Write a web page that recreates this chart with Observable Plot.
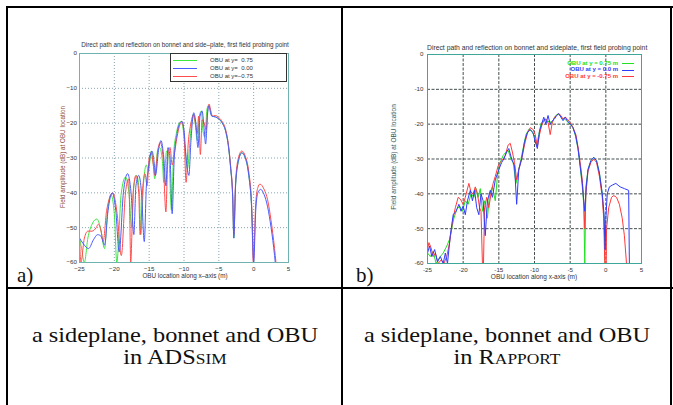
<!DOCTYPE html>
<html>
<head>
<meta charset="utf-8">
<script src="https://cdn.jsdelivr.net/npm/d3@7"></script>
<script src="https://cdn.jsdelivr.net/npm/@observablehq/plot@0.6"></script>
<style>
  html, body { margin: 0; padding: 0; background: #fff; }
  #page { position: relative; width: 673px; height: 405px; overflow: hidden; background: #fff; }
  .abs { position: absolute; }
  .bar { position: absolute; background: #000; }
  .tiny { position: absolute; font-family: "Liberation Sans", Arial, sans-serif; font-size: 6px; color: #333; white-space: nowrap; }
  .cap { position: absolute; font-family: "Liberation Serif", serif; font-size: 21px; line-height: 22px; text-align: center; color: #111; white-space: nowrap; transform: scaleX(1.16); }
  .sc { font-variant: small-caps; }
  .lab { position: absolute; font-family: "Liberation Serif", serif; font-size: 21px; line-height: 22px; color: #111; }
  .leg { position: absolute; height: 0; border-top: 1px solid; }
</style>
</head>
<body>
<div id="page"></div>
<script>
// ---------- data ----------
const xTicks = [-25, -20, -15, -10, -5, 0, 5];
const yTicks = [0, -10, -20, -30, -40, -50, -60];

const titleA = "Direct path and reflection on bonnet and side\u2013plate, first field probing point";
const titleB = "Direct path and reflection on bonnet and sideplate, first field probing point";
const xLabelA = "OBU location along x\u2013axis (m)";
const xLabelB = "OBU location along x-axis (m)";
const yLabel = "Field amplitude (dB) at OBU location";
const legendA = ["OBU at y=  0.75", "OBU at y=  0.00", "OBU at y=\u22120.75"];
const legendB = ["OBU at y = 0.75 m", "OBU at y = 0.0 m", "OBU at y = -0.75 m"];
const captions = [["a sideplane, bonnet and OBU", "in AD<span class='sc'>Ssim</span>"],
                  ["a sideplane, bonnet and OBU", "in <span class='sc'>Rapport</span>"]];
const panelLabels = ["a)", "b)"];

// ADSsim (panel a)
const adsGreen = [[-25,-53],[-24.7,-56],[-24.3,-60],[-23.8,-53],[-23.2,-49],[-22.5,-47.5],[-22.0,-50],[-21.4,-56],
 [-21.0,-46],[-20.5,-40.5],[-20.0,-46],[-19.65,-60],[-19.0,-40],[-18.4,-35.5],[-17.9,-40],[-17.5,-50],[-17.2,-38],
 [-16.8,-35],[-16.4,-40],[-16.2,-52],[-15.8,-37],[-15.4,-32],[-15.1,-34],[-14.9,-31],[-14.7,-28],[-14.4,-32],[-14.2,-36],
 [-13.8,-28],[-13.5,-27],[-13.1,-31],[-12.9,-37],[-12.5,-28],[-12.2,-29],[-11.8,-45],[-11.5,-29],[-11.1,-23],[-10.7,-20],
 [-10.4,-19.5],[-10.1,-22],[-9.8,-28],[-9.5,-33],[-9.1,-24],[-8.7,-17.5],[-8.4,-20],[-8.1,-25],[-7.8,-18],[-7.5,-16.5],
 [-7.3,-22],[-7.0,-24],[-6.7,-16],[-6.5,-15],[-6.2,-16.5],[-6.0,-18],[-5.5,-18.2],[-5.0,-18.8],[-4.5,-20],[-4.0,-22.5],
 [-3.6,-27],[-3.3,-33],[-3.0,-42],[-2.85,-53],[-2.6,-38],[-2.2,-31],[-1.7,-28.5],[-1.2,-30],[-0.7,-35],[-0.3,-44],[0.0,-60]];
const adsBlue = [[-25,-53],[-24.5,-54.5],[-23.7,-56],[-23.0,-53.5],[-22.4,-52],[-21.9,-52.5],[-21.4,-55],[-20.9,-45],
 [-20.3,-40],[-19.8,-45],[-19.3,-57],[-18.7,-40],[-18.1,-34.5],[-17.6,-40],[-17.2,-52],[-16.9,-38],[-16.5,-35],[-16.1,-40],
 [-15.7,-54],[-15.4,-38],[-15.1,-33],[-14.9,-30],[-14.6,-28],[-14.3,-31],[-14.1,-35],[-13.6,-27],[-13.3,-25],[-12.9,-30],
 [-12.6,-38],[-12.3,-27],[-12.0,-30],[-11.7,-46],[-11.4,-30],[-11.0,-23],[-10.6,-20],[-10.3,-19.5],[-10.0,-22],[-9.7,-30],
 [-9.3,-35],[-9.0,-25],[-8.6,-17],[-8.3,-20],[-8.0,-27],[-7.7,-18],[-7.4,-16.5],[-7.1,-22],[-6.9,-26],[-6.6,-17],
 [-6.4,-15],[-6.2,-17],[-6.0,-18],[-5.5,-18.2],[-5.0,-18.8],[-4.5,-20],[-4.0,-22.5],[-3.6,-27],[-3.3,-33],[-3.0,-42],
 [-2.85,-53],[-2.6,-38],[-2.2,-31],[-1.7,-28.5],[-1.2,-30],[-0.7,-35],[-0.3,-44],[0.0,-60],[0.3,-45],[0.6,-40],
 [1.0,-39],[1.5,-40.5],[2.0,-44],[2.5,-50],[3.0,-58],[3.1,-60]];
const adsRed = [[-25,-53],[-24.8,-60],[-24.3,-53],[-23.8,-51],[-23.2,-51],[-22.6,-50],[-22.3,-49],[-21.9,-51],[-21.6,-54],
 [-21.1,-45],[-20.2,-40],[-19.6,-46],[-19.0,-58],[-18.4,-40],[-17.95,-36],[-17.8,-45],[-17.65,-60],[-17.3,-40],[-16.9,-35],
 [-16.5,-40],[-16.3,-52],[-15.9,-38],[-15.6,-34.5],[-15.3,-38],[-15.0,-30],[-14.7,-28.5],[-14.4,-32],[-14.2,-35],[-13.7,-27],
 [-13.4,-25.5],[-13.0,-30],[-12.6,-45.5],[-12.3,-29],[-12.0,-27],[-11.7,-32],[-11.4,-29],[-11.0,-24],[-10.6,-20.5],
 [-10.3,-19.5],[-10.0,-23],[-9.7,-37],[-9.4,-26],[-9.0,-20],[-8.6,-17.5],[-8.3,-21],[-8.1,-23],[-7.9,-18],[-7.65,-29],
 [-7.4,-19],[-7.1,-20],[-6.8,-22],[-6.6,-16],[-6.4,-14.5],[-6.2,-16],[-5.9,-18],[-5.5,-17.8],[-5.0,-18.4],[-4.5,-19.6],
 [-4.0,-22],[-3.6,-26.5],[-3.3,-32.5],[-3.0,-41],[-2.85,-52],[-2.6,-37],[-2.2,-30],[-1.7,-28],[-1.2,-29.5],[-0.7,-34],
 [-0.3,-43],[-0.05,-60],[0.3,-43],[0.6,-38.5],[0.9,-37.5],[1.5,-39],[2.0,-42],[2.5,-48],[3.0,-56],[3.2,-60]];

// Rapport (panel b)
const rapGreen = [[-25,-57],[-24.6,-58],[-24.2,-56.5],[-23.8,-60],[-23.2,-58],[-22.8,-57],[-22.3,-55],[-21.9,-53],
 [-21.6,-50],[-21.3,-47],[-20.9,-44.5],[-20.5,-43.5],[-20.1,-45],[-19.7,-42],[-19.3,-43],[-18.9,-40],[-18.5,-41],
 [-18.2,-38.5],[-17.9,-41],[-17.6,-38.5],[-17.3,-45],[-17.0,-42],[-16.6,-47],[-16.3,-40],[-15.9,-38],[-15.5,-42],
 [-15.2,-35],[-14.8,-31],[-14.4,-29],[-14.0,-28],[-13.7,-27.5],[-13.3,-30],[-13.0,-31],[-12.6,-37],[-12.3,-34],[-12.0,-31],
 [-11.6,-27],[-11.2,-23],[-10.8,-21.5],[-10.4,-22],[-10.0,-23.5],[-9.7,-26],[-9.4,-23],[-9.1,-20],[-8.8,-19],[-8.5,-18.5],
 [-8.2,-19.5],[-7.9,-19],[-7.6,-20],[-7.3,-18.5],[-7.0,-17.5],[-6.7,-17],[-6.4,-17.5],[-6.1,-18.5],[-5.8,-18.5],[-5.5,-19],
 [-5.1,-20],[-4.7,-20.5],[-4.3,-23],[-3.9,-27],[-3.6,-32],[-3.3,-38],[-3.1,-43],[-2.95,-60],[-2.8,-38],[-2.5,-33],
 [-2.1,-30.5],[-1.7,-29.5],[-1.3,-30.5],[-0.9,-34],[-0.5,-40],[-0.25,-47],[-0.1,-60]];
const rapBlue = [[-25,-57],[-24.7,-55],[-24.4,-58],[-24.0,-56],[-23.6,-59.5],[-23.2,-58],[-22.8,-60],[-22.5,-57],
 [-22.2,-60],[-21.8,-52],[-21.4,-46],[-21.0,-45],[-20.6,-43],[-20.3,-45],[-20.0,-43.5],[-19.7,-46],[-19.4,-42],[-19.0,-39],
 [-18.7,-42],[-18.4,-39],[-18.1,-44],[-17.8,-46],[-17.5,-40],[-17.2,-42],[-16.9,-52],[-16.6,-42],[-16.2,-39],[-15.9,-41],
 [-15.5,-36],[-15.0,-33],[-14.6,-31],[-14.3,-30],[-13.9,-28],[-13.6,-27],[-13.2,-30],[-12.8,-32],[-12.5,-43],[-12.2,-33],
 [-11.8,-30],[-11.4,-25],[-11.0,-22.5],[-10.6,-21.5],[-10.2,-22.5],[-9.9,-25],[-9.6,-27],[-9.3,-22],[-9.0,-20],[-8.7,-18],
 [-8.4,-20],[-8.1,-17.5],[-7.8,-20],[-7.5,-19],[-7.2,-18.5],[-6.9,-17.5],[-6.6,-17],[-6.3,-18],[-6.0,-19],[-5.7,-18],
 [-5.4,-19],[-5.0,-20],[-4.6,-21],[-4.2,-23.5],[-3.9,-27],[-3.6,-32],[-3.3,-37],[-3.1,-42],[-2.95,-45],[-2.75,-38],
 [-2.5,-33],[-2.1,-30.5],[-1.7,-29.5],[-1.3,-30.5],[-0.9,-34],[-0.5,-40],[-0.25,-46],[-0.1,-56],[0.0,-47],[0.2,-40],
 [0.5,-38],[0.9,-37.5],[1.4,-37],[2.0,-38],[2.6,-38.5],[3.2,-39],[3.3,-60]];
const rapRed = [[-25,-56],[-24.8,-54],[-24.5,-55.5],[-24.2,-58],[-23.9,-57],[-23.5,-60],[-23.1,-59],[-22.7,-60],
 [-22.3,-58],[-21.9,-54],[-21.5,-48],[-21.1,-44],[-20.7,-41],[-20.4,-41.5],[-20.0,-43],[-19.7,-41],[-19.2,-37],
 [-18.9,-39.5],[-18.6,-40],[-18.3,-38],[-18.0,-40],[-17.7,-44],[-17.5,-45],[-17.3,-60],[-17.15,-60],[-17.0,-44],
 [-16.7,-41],[-16.4,-44],[-16.1,-40],[-15.8,-37],[-15.5,-35],[-15.1,-32],[-14.8,-31],[-14.4,-30],[-14.1,-29],[-13.7,-26],
 [-13.4,-25.5],[-13.1,-28],[-12.8,-31],[-12.5,-36],[-12.2,-33],[-11.8,-30],[-11.4,-26],[-11.0,-22.5],[-10.6,-21],
 [-10.2,-21.5],[-9.9,-23],[-9.6,-26.5],[-9.3,-23],[-9.0,-20.5],[-8.7,-19],[-8.4,-18.5],[-8.1,-19.5],[-7.8,-23],[-7.5,-19.5],
 [-7.2,-18],[-6.9,-17.5],[-6.6,-17],[-6.3,-17.5],[-6.0,-18.5],[-5.7,-18],[-5.4,-18.5],[-5.0,-19.5],[-4.6,-21],[-4.2,-23],
 [-3.9,-26.5],[-3.6,-31],[-3.3,-36],[-3.1,-42],[-2.95,-50],[-2.8,-40],[-2.5,-33.5],[-2.1,-31],[-1.7,-30],[-1.3,-31],
 [-0.9,-35],[-0.5,-41],[-0.3,-47],[-0.15,-60],[0.05,-60],[0.1,-50],[0.4,-44],[0.8,-41],[1.1,-40.5],[1.5,-41],[1.9,-43],
 [2.3,-47],[2.6,-52],[2.9,-60]];

const colorsA = ["#3ee83e", "#4a5cff", "#ff4d4d"];
const colorsB = ["#22e022", "#2f3cff", "#ff3a3a"];

// ---------- layout helpers ----------
const page = document.getElementById("page");
function el(cls, css, html) {
  const d = document.createElement("div");
  d.className = cls;
  Object.assign(d.style, css);
  if (html !== undefined) d.innerHTML = html;
  page.appendChild(d);
  return d;
}

const fmtA = d => (d < 0 ? "\u2212" : "") + Math.abs(d);
const fmtB = d => String(d);

// ---------- panel a (ADSsim) ----------
const plotA = Plot.plot({
  width: 280, height: 250,
  marginLeft: 59, marginRight: 12, marginTop: 18, marginBottom: 23,
  style: {fontFamily: "Liberation Sans, Arial, sans-serif", fontSize: "6.2px", color: "#333", background: "transparent", overflow: "visible"},
  x: {domain: [-25, 5], label: null},
  y: {domain: [-60, 0], label: null},
  marks: [
    Plot.gridX(xTicks, {stroke: "#7a9aaa", strokeOpacity: 0.9, strokeDasharray: "1,2"}),
    Plot.gridY(yTicks, {stroke: "#7a9aaa", strokeOpacity: 0.9, strokeDasharray: "1,2"}),
    Plot.line(adsGreen, {x: d => d[0], y: d => d[1], stroke: colorsA[0], strokeWidth: 1, curve: "monotone-x", clip: true}),
    Plot.line(adsRed, {x: d => d[0], y: d => d[1], stroke: colorsA[2], strokeWidth: 1, curve: "monotone-x", clip: true}),
    Plot.line(adsBlue, {x: d => d[0], y: d => d[1], stroke: colorsA[1], strokeWidth: 1, curve: "monotone-x", clip: true}),
    Plot.frame({stroke: "#6fb3b0", strokeWidth: 1}),
    Plot.axisX({ticks: xTicks, tickSize: 0, tickPadding: 3.8, tickFormat: fmtA, label: null}),
    Plot.axisY({ticks: yTicks, tickSize: 0, tickPadding: 2.5, tickFormat: fmtA, label: null})
  ]
});
const wrapA = el("abs", {left: "20px", top: "35px"});
wrapA.appendChild(plotA);

// ---------- panel b (Rapport) ----------
const plotB = Plot.plot({
  width: 285, height: 250,
  marginLeft: 57, marginRight: 14, marginTop: 19, marginBottom: 22,
  style: {fontFamily: "Liberation Sans, Arial, sans-serif", fontSize: "6.2px", color: "#333", background: "transparent", overflow: "visible"},
  x: {domain: [-25, 5], label: null},
  y: {domain: [-60, 0], label: null},
  marks: [
    Plot.gridX(xTicks, {stroke: "#2f3a3a", strokeOpacity: 0.9, strokeDasharray: "3,1.5"}),
    Plot.gridY(yTicks, {stroke: "#2f3a3a", strokeOpacity: 0.9, strokeDasharray: "3,1.5"}),
    Plot.line(rapGreen, {x: d => d[0], y: d => d[1], stroke: colorsB[0], strokeWidth: 1, clip: true}),
    Plot.line(rapRed, {x: d => d[0], y: d => d[1], stroke: colorsB[2], strokeWidth: 1, clip: true}),
    Plot.line(rapBlue, {x: d => d[0], y: d => d[1], stroke: colorsB[1], strokeWidth: 1, clip: true}),
    Plot.frame({stroke: "#3fa69a", strokeWidth: 1}),
    Plot.axisX({ticks: xTicks, tickSize: 0, tickPadding: 3.8, tickFormat: fmtB, label: null}),
    Plot.axisY({ticks: yTicks, tickSize: 0, tickPadding: 4, tickFormat: fmtB, label: null})
  ]
});
const wrapB = el("abs", {left: "370px", top: "35px"});
wrapB.appendChild(plotB);

// ---------- titles & axis labels ----------
el("tiny", {left: "79px", width: "212px", top: "41px", textAlign: "center", fontSize: "6.3px"}, titleA);
el("tiny", {left: "79px", width: "212px", top: "272px", textAlign: "center", fontSize: "6.3px"}, xLabelA);
el("tiny", {left: "62px", top: "157px", transform: "translate(-50%,-50%) rotate(-90deg)", color: "#8a4a3a", fontSize: "6.3px"}, yLabel);

el("tiny", {left: "427px", width: "214px", top: "44px", textAlign: "center", fontSize: "6.8px"}, titleB);
el("tiny", {left: "427px", width: "214px", top: "273px", textAlign: "center", fontSize: "6.5px"}, xLabelB);
el("tiny", {left: "393px", top: "157px", transform: "translate(-50%,-50%) rotate(-90deg)", color: "#3a5a5a", fontSize: "6.5px"}, yLabel);

// ---------- legends ----------
el("abs", {left: "170px", top: "53px", width: "117px", height: "29px", border: "1px solid #333", background: "#fff", boxSizing: "border-box"});
legendA.forEach((t, i) => {
  const y = 60 + i * 8;
  el("leg", {left: "173px", top: y + "px", width: "24px", borderTopColor: colorsA[i]});
  el("tiny", {left: "210px", top: (y - 3.5) + "px"}, t.replace(/ /g, "&nbsp;"));
});
legendB.forEach((t, i) => {
  const y = 63 + i * 6.5;
  el("tiny", {right: (673 - 618) + "px", top: (y - 3.5) + "px", color: colorsB[i], fontWeight: "bold"}, t);
  el("leg", {left: "622px", top: y + "px", width: "12px", borderTopColor: colorsB[i]});
});

// ---------- panel letters ----------
el("lab", {left: "17px", top: "264px"}, panelLabels[0]);
el("lab", {left: "356px", top: "264px"}, panelLabels[1]);

// ---------- captions ----------
el("cap", {left: "8px", width: "334px", top: "324px"}, captions[0].join("<br>"));
el("cap", {left: "342px", width: "330px", top: "324px"}, captions[1].join("<br>"));

// ---------- table rules ----------
el("bar", {left: "6px", top: "6px", width: "667px", height: "2px"});
el("bar", {left: "6px", top: "6px", width: "2px", height: "399px"});
el("bar", {left: "341px", top: "6px", width: "2px", height: "399px"});
el("bar", {left: "670px", top: "6px", width: "2px", height: "399px"});
el("bar", {left: "6px", top: "287px", width: "667px", height: "2px"});
</script>
</body>
</html>
